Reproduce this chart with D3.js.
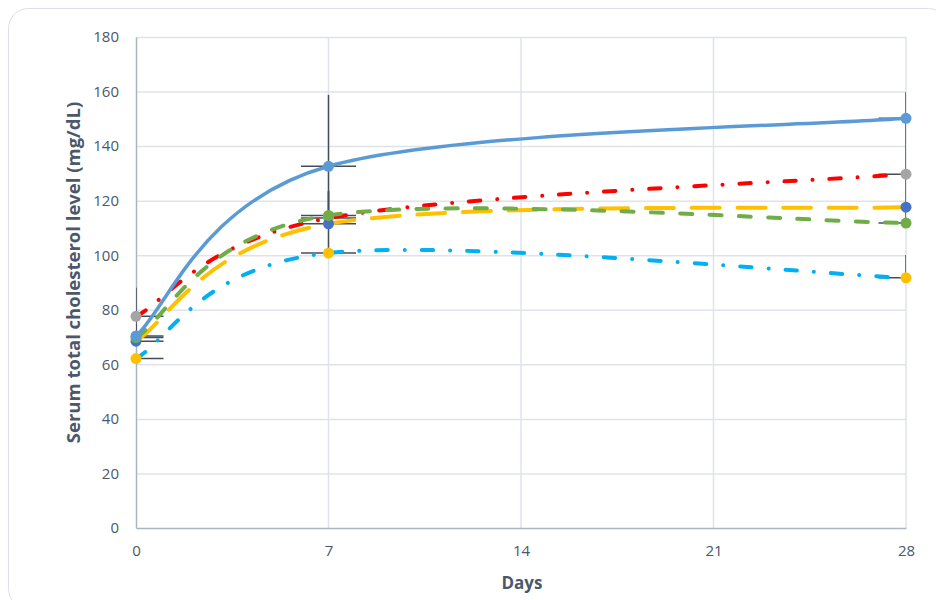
<!DOCTYPE html>
<html>
<head>
<meta charset="utf-8">
<script src="https://cdn.jsdelivr.net/npm/d3@7"></script>
<style>
  body { margin: 0; background: #fff; }
  svg text { font-family: "Open Sans", "Liberation Sans", Arial, sans-serif; fill: #4b586b; }
</style>
</head>
<body>
<svg id="chart" width="936" height="600"></svg>
<script>
"use strict";

// sampling days
var days = [0, 7, 28];
var xTicks = [0, 7, 14, 21, 28];
var yTicks = [0, 20, 40, 60, 80, 100, 120, 140, 160, 180];

// mean values per group (mg/dL)
var lightBlueVals = [70.4, 132.6, 150.2];
var grayVals = [77.6, 113.6, 129.7];
var darkBlueVals = [68.5, 111.5, 117.6];
var greenVals = [69.8, 114.6, 111.8];
var yellowVals = [62.1, 100.8, 91.7];

// upper error bar lengths
var lightBlueErr = [8, 26.2, 9.5];
var grayErr = [10.5, 10, 21];
var darkBlueErr = [3, 12, 12];
var greenErr = [5, 18, 5];
var yellowErr = [0, 12, 8.4];
var xErr = 1;

var series = [
  {vals: yellowVals, err: yellowErr, marker: "#FFC000", line: "#00B0F0", dash: "11.5 17 0.01 17"},
  {vals: grayVals, err: grayErr, marker: "#A5A5A5", line: "#FF0000", dash: "11.5 16.8 0.01 16.8"},
  {vals: darkBlueVals, err: darkBlueErr, marker: "#4472C4", line: "#FFC000", dash: "28 17.7"},
  {vals: greenVals, err: greenErr, marker: "#70AD47", line: "#70AD47", dash: "12 17.3"},
  {vals: lightBlueVals, err: lightBlueErr, marker: "#5B9BD5", line: "#5B9BD5", dash: null}
];

// spreadsheet-style smoothing: cardinal bezier, end tangents from the first/last chord
function SmoothCurve(context) { this._context = context; }
SmoothCurve.prototype = {
  areaStart: function() {},
  areaEnd: function() {},
  lineStart: function() { this._pts = []; },
  lineEnd: function() {
    var p = this._pts, c = this._context, n = p.length;
    if (!n) return;
    c.moveTo(p[0][0], p[0][1]);
    for (var i = 0; i < n - 1; i++) {
      var a = p[Math.max(i - 1, 0)], b = p[i], e = p[i + 1], f = p[Math.min(i + 2, n - 1)];
      c.bezierCurveTo(
        b[0] + (e[0] - a[0]) / 6, b[1] + (e[1] - a[1]) / 6,
        e[0] - (f[0] - b[0]) / 6, e[1] - (f[1] - b[1]) / 6,
        e[0], e[1]);
    }
  },
  point: function(x, y) { this._pts.push([+x, +y]); }
};
function curveSmooth(context) { return new SmoothCurve(context); }

var svg = d3.select("#chart");

svg.append("rect")
  .attr("x", 8.5).attr("y", 8.5)
  .attr("width", 940).attr("height", 600)
  .attr("rx", 20)
  .attr("fill", "#fff")
  .attr("stroke", "#dde1e6");

var margin = {top: 37, left: 136},
  width = 906 - margin.left,
  height = 528 - margin.top,
  g = svg.append("g").attr("transform", "translate(" + margin.left + "," + margin.top + ")"),
  x = d3.scaleLinear().domain([0, 28]).range([0, width]),
  y = d3.scaleLinear().domain([0, 180]).range([height, 0]);

svg.append("defs").append("clipPath").attr("id", "plotClip")
  .append("rect").attr("width", width).attr("height", height);

// gridlines
g.append("g")
  .selectAll("line").data(yTicks.filter(function(d) { return d > 0; }))
  .enter().append("line")
  .attr("x1", 0).attr("x2", width)
  .attr("y1", function(d) { return y(d) + 0.5; }).attr("y2", function(d) { return y(d) + 0.5; })
  .attr("stroke", "#dfe3e9").attr("stroke-width", 1.5);

g.append("g")
  .selectAll("line").data(xTicks.filter(function(d) { return d > 0; }))
  .enter().append("line")
  .attr("x1", function(d) { return x(d); }).attr("x2", function(d) { return x(d); })
  .attr("y1", 0).attr("y2", height)
  .attr("stroke", "#dfe3e9").attr("stroke-width", 1.5);

// axes
var xAxis = g.append("g")
  .attr("transform", "translate(0," + height + ")")
  .call(d3.axisBottom(x).tickValues(xTicks).tickSize(0).tickPadding(17));
xAxis.select(".domain").attr("stroke", "#a9b5c5").attr("stroke-width", 1.5);
xAxis.selectAll("text").style("font-size", "15px").attr("fill", "#4b586b");

var yAxis = g.append("g")
  .call(d3.axisLeft(y).tickValues(yTicks).tickSize(0).tickPadding(17));
yAxis.select(".domain").attr("stroke", "#a9b5c5").attr("stroke-width", 1.5);
yAxis.selectAll("text").style("font-size", "15px").attr("fill", "#4b586b");

svg.append("text")
  .attr("x", 522).attr("y", 589)
  .attr("text-anchor", "middle")
  .style("font-size", "17px").style("font-weight", "bold")
  .text("Days");

svg.append("text")
  .attr("transform", "translate(80," + (margin.top + height / 2 - 10) + ") rotate(-90)")
  .attr("text-anchor", "middle")
  .style("font-size", "18.5px").style("font-weight", "bold")
  .text("Serum total cholesterol level (mg/dL)");

var plot = g.append("g").attr("clip-path", "url(#plotClip)");

// error bars
var errColor = "#444d5c";
series.forEach(function(s) {
  var pts = days.map(function(d, i) { return {day: d, v: s.vals[i], e: s.err[i]}; });
  plot.append("g").selectAll("line").data(pts)
    .enter().append("line")
    .attr("x1", function(d) { return x(d.day - xErr); })
    .attr("x2", function(d) { return x(d.day + xErr); })
    .attr("y1", function(d) { return y(d.v); })
    .attr("y2", function(d) { return y(d.v); })
    .attr("stroke", errColor).attr("stroke-width", 1.5);
  plot.append("g").selectAll("line").data(pts.filter(function(d) { return d.e > 0; }))
    .enter().append("line")
    .attr("x1", function(d) { return x(d.day); })
    .attr("x2", function(d) { return x(d.day); })
    .attr("y1", function(d) { return y(d.v); })
    .attr("y2", function(d) { return y(d.v + d.e); })
    .attr("stroke", errColor).attr("stroke-width", 1.5);
});

// smoothed lines
var line = d3.line()
  .x(function(d, i) { return x(days[i]); })
  .y(function(d) { return y(d); })
  .curve(curveSmooth);

series.forEach(function(s) {
  g.append("path")
    .datum(s.vals)
    .attr("fill", "none")
    .attr("stroke", s.line)
    .attr("stroke-width", s.dash ? 4 : 3.5)
    .attr("stroke-linecap", "round")
    .attr("stroke-dasharray", s.dash)
    .attr("d", line);
});

// markers
series.forEach(function(s) {
  g.append("g").selectAll("circle").data(s.vals)
    .enter().append("circle")
    .attr("cx", function(d, i) { return x(days[i]); })
    .attr("cy", function(d) { return y(d); })
    .attr("r", 5.5)
    .attr("fill", s.marker);
});
</script>
</body>
</html>
